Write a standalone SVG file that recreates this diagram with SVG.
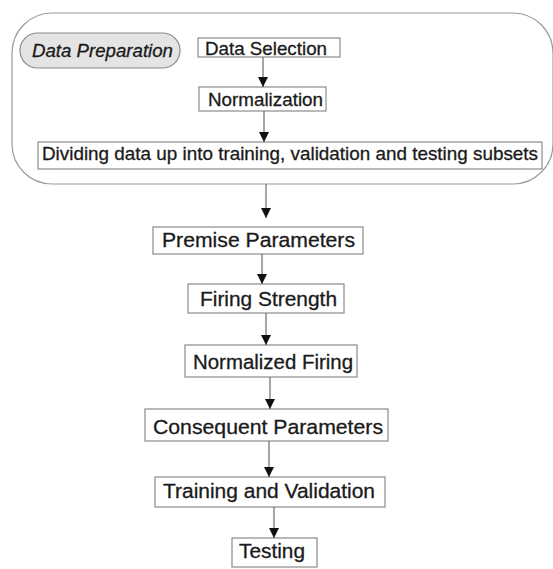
<svg xmlns="http://www.w3.org/2000/svg" width="553" height="569" viewBox="0 0 553 569">
<style>
  .box{fill:#fff;stroke:#8a8a8a;stroke-width:1.2}
  .t{font-family:"Liberation Sans",Arial,sans-serif;fill:#1a1a1a;stroke:#1a1a1a;stroke-width:0.3;text-anchor:middle}
  .u{font-size:19px}
  .l{font-size:20.5px}
  .c{stroke:#6a6a6a;stroke-width:1.2;fill:none;marker-end:url(#ah)}
</style>
<defs>
  <marker id="ah" markerUnits="userSpaceOnUse" markerWidth="12" markerHeight="12" viewBox="0 0 12 12" refX="11" refY="6" orient="auto">
    <path d="M1,1 L11,6 L1,11 Z" fill="#111"/>
  </marker>
</defs>
<rect width="553" height="569" fill="#fff"/>
<g id="data-preparation-group">
  <rect x="12" y="13" width="541" height="171" rx="40" ry="40" fill="#fff" stroke="#9a9a9a" stroke-width="1.2"/>
</g>
<g id="data-preparation">
  <rect x="20" y="33" width="160" height="35" rx="17.5" ry="17.5" fill="#e4e4e4" stroke="#8a8a8a" stroke-width="1.2"/>
  <text class="t u" x="102.5" y="57" font-style="italic" textLength="141" lengthAdjust="spacingAndGlyphs">Data Preparation</text>
</g>
<g id="data-selection">
  <rect class="box" x="198" y="38" width="142" height="19"/>
  <text class="t u" x="266" y="55" textLength="122" lengthAdjust="spacingAndGlyphs">Data Selection</text>
</g>
<g id="normalization">
  <rect class="box" x="199" y="87" width="127" height="24"/>
  <text class="t u" x="265.5" y="106" textLength="115" lengthAdjust="spacingAndGlyphs">Normalization</text>
</g>
<g id="dividing">
  <rect class="box" x="38" y="142" width="504" height="27"/>
  <text class="t u" x="290" y="160" textLength="496" lengthAdjust="spacingAndGlyphs">Dividing data up into training, validation and testing subsets</text>
</g>
<g id="premise-parameters">
  <rect class="box" x="153" y="227" width="210" height="27"/>
  <text class="t l" x="258.5" y="247" textLength="193" lengthAdjust="spacingAndGlyphs">Premise Parameters</text>
</g>
<g id="firing-strength">
  <rect class="box" x="188" y="284" width="156" height="29"/>
  <text class="t l" x="268.5" y="306" textLength="137" lengthAdjust="spacingAndGlyphs">Firing Strength</text>
</g>
<g id="normalized-firing">
  <rect class="box" x="185" y="345" width="172" height="32"/>
  <text class="t l" x="273" y="369" textLength="160" lengthAdjust="spacingAndGlyphs">Normalized Firing</text>
</g>
<g id="consequent-parameters">
  <rect class="box" x="145" y="409" width="243" height="32"/>
  <text class="t l" x="268" y="434" textLength="230" lengthAdjust="spacingAndGlyphs">Consequent Parameters</text>
</g>
<g id="training-validation">
  <rect class="box" x="155" y="477" width="230" height="30"/>
  <text class="t l" x="269" y="498" textLength="212" lengthAdjust="spacingAndGlyphs">Training and Validation</text>
</g>
<g id="testing">
  <rect class="box" x="232" y="538" width="85" height="29"/>
  <text class="t l" x="272" y="558" textLength="66" lengthAdjust="spacingAndGlyphs">Testing</text>
</g>
<g id="connectors">
  <line class="c" x1="263" y1="57" x2="263" y2="87"/>
  <line class="c" x1="264" y1="111" x2="264" y2="142"/>
  <line class="c" x1="266" y1="184" x2="266" y2="218"/>
  <line class="c" x1="262" y1="254" x2="262" y2="284"/>
  <line class="c" x1="266" y1="313" x2="266" y2="345"/>
  <line class="c" x1="270" y1="377" x2="270" y2="409"/>
  <line class="c" x1="269" y1="441" x2="269" y2="477"/>
  <line class="c" x1="274" y1="507" x2="274" y2="538"/>
</g>
</svg>
